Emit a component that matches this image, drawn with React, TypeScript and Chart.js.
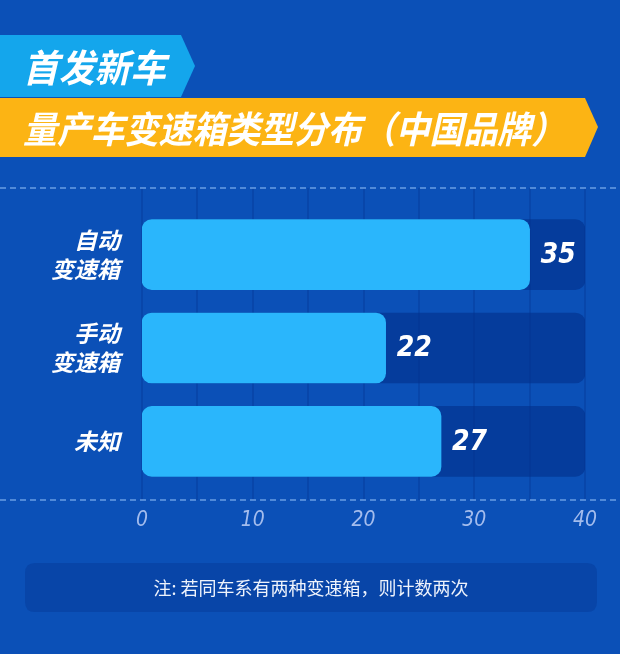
import React, { useEffect, useRef } from 'react';
import { Chart, registerables } from 'chart.js';

Chart.register(...registerables);

// ---- data ----
const TITLE_TAG = '首发新车';
const TITLE_MAIN = '量产车变速箱类型分布（中国品牌）';
const NOTE = '注: 若同车系有两种变速箱，则计数两次';
const categories: string[][] = [['自动', '变速箱'], ['手动', '变速箱'], ['未知']];
const counts: number[] = [35, 22, 27];
const tickValues: number[] = [0, 10, 20, 30, 40];
const gridValues: number[] = [0, 5, 10, 15, 20, 25, 30, 35, 40];
const AXIS_MAX = 40;

// ---- style ----
const CJK = "'Noto Sans CJK SC', 'Noto Sans', sans-serif";
const NUM = "'DejaVu Sans Condensed', 'Liberation Sans Narrow', 'DejaVu Sans', sans-serif";
const BG = '#0b50b7';
const BAR = '#2ab6fc';
const TRACK = 'rgba(2, 49, 138, 0.62)';
const GRID = '#0843a6';
const DASH = '#6a9de3';

function fitText(ctx: CanvasRenderingContext2D, text: string, x: number, y: number, w: number, font: string) {
  ctx.font = font;
  const m = ctx.measureText(text).width;
  ctx.save();
  ctx.translate(x, y);
  ctx.scale(w / m, 1);
  ctx.fillText(text, 0, 0);
  ctx.restore();
}

function roundRect(ctx: CanvasRenderingContext2D, x: number, y: number, w: number, h: number, r: number) {
  ctx.beginPath();
  ctx.moveTo(x + r, y);
  ctx.lineTo(x + w - r, y);
  ctx.quadraticCurveTo(x + w, y, x + w, y + r);
  ctx.lineTo(x + w, y + h - r);
  ctx.quadraticCurveTo(x + w, y + h, x + w - r, y + h);
  ctx.lineTo(x + r, y + h);
  ctx.quadraticCurveTo(x, y + h, x, y + h - r);
  ctx.lineTo(x, y + r);
  ctx.quadraticCurveTo(x, y, x + r, y);
  ctx.closePath();
}

const deco = {
  id: 'deco',
  beforeDraw(chart: any) {
    const ctx: CanvasRenderingContext2D = chart.ctx;
    const W = chart.width;
    const H = chart.height;
    ctx.save();
    ctx.fillStyle = BG;
    ctx.fillRect(0, 0, W, H);

    // banners
    ctx.fillStyle = '#14a6ec';
    ctx.beginPath();
    ctx.moveTo(0, 35); ctx.lineTo(181, 35); ctx.lineTo(195, 66); ctx.lineTo(181, 97); ctx.lineTo(0, 97);
    ctx.closePath(); ctx.fill();
    ctx.fillStyle = '#fcb414';
    ctx.beginPath();
    ctx.moveTo(0, 98); ctx.lineTo(585, 98); ctx.lineTo(598, 127); ctx.lineTo(585, 157); ctx.lineTo(0, 157);
    ctx.closePath(); ctx.fill();

    ctx.fillStyle = '#ffffff';
    ctx.textBaseline = 'middle';
    ctx.textAlign = 'left';
    fitText(ctx, TITLE_TAG, 23, 68, 143, `italic bold 38px ${CJK}`);
    fitText(ctx, TITLE_MAIN, 23, 129, 542, `italic bold 37px ${CJK}`);

    // vertical grid
    const xs = chart.scales.x;
    ctx.strokeStyle = GRID;
    ctx.lineWidth = 1.5;
    gridValues.forEach((v) => {
      const px = Math.round(xs.getPixelForValue(v));
      ctx.beginPath();
      ctx.moveTo(px, 188);
      ctx.lineTo(px, 500);
      ctx.stroke();
    });

    // dashed lines
    ctx.setLineDash([6, 4]);
    ctx.strokeStyle = DASH;
    ctx.lineWidth = 1.5;
    [188, 500].forEach((y) => {
      ctx.beginPath();
      ctx.moveTo(0, y);
      ctx.lineTo(W, y);
      ctx.stroke();
    });
    ctx.setLineDash([]);

    // footnote box
    ctx.fillStyle = '#0845a8';
    roundRect(ctx, 25, 563, 572, 49, 10);
    ctx.fill();
    ctx.fillStyle = '#eef3fc';
    ctx.font = `18px ${CJK}`;
    ctx.textAlign = 'center';
    ctx.textBaseline = 'middle';
    ctx.fillText(NOTE, 311, 588);
    ctx.restore();
  },
  afterDatasetsDraw(chart: any) {
    const ctx: CanvasRenderingContext2D = chart.ctx;
    const meta = chart.getDatasetMeta(0);
    ctx.save();
    ctx.fillStyle = '#ffffff';
    ctx.font = `italic bold 28px ${NUM}`;
    ctx.textAlign = 'left';
    ctx.textBaseline = 'middle';
    meta.data.forEach((el: any, i: number) => {
      ctx.fillText(String(counts[i]), el.x + 11, el.y + 1);
    });
    ctx.restore();
  },
};

export default function App() {
  const ref = useRef<HTMLCanvasElement>(null);
  useEffect(() => {
    if (!ref.current) return;
    const chart = new Chart(ref.current, {
      type: 'bar',
      data: {
        labels: categories as any,
        datasets: [
          {
            label: 'count',
            data: counts,
            backgroundColor: BAR,
            borderRadius: 10,
            borderSkipped: false,
            barThickness: 70,
            grouped: false,
            order: 1,
          } as any,
          {
            label: 'track',
            data: categories.map(() => AXIS_MAX),
            backgroundColor: TRACK,
            borderRadius: 10,
            borderSkipped: false,
            barThickness: 70,
            grouped: false,
            order: 2,
          } as any,
        ],
      },
      options: {
        indexAxis: 'y',
        responsive: false,
        animation: false,
        devicePixelRatio: 1,
        layout: { padding: { top: 208, right: 35, left: 0, bottom: 0 } },
        plugins: { legend: { display: false }, tooltip: { enabled: false } },
        scales: {
          x: {
            type: 'linear',
            min: 0,
            max: AXIS_MAX,
            position: 'bottom',
            grid: { display: false, drawTicks: false },
            border: { display: false },
            afterBuildTicks: (s: any) => {
              s.ticks = tickValues.map((v) => ({ value: v }));
            },
            ticks: {
              color: '#a3bced',
              font: { family: NUM, size: 21, style: 'italic' },
              padding: 20,
            },
            afterFit: (s: any) => {
              s.height = 654 - 488;
            },
          },
          y: {
            type: 'category',
            position: 'left',
            grid: { display: false, drawTicks: false },
            border: { display: false },
            ticks: {
              color: '#ffffff',
              font: { family: CJK, size: 23, weight: 'bold', style: 'italic', lineHeight: 1.25 },
              padding: 22,
            },
            afterFit: (s: any) => {
              s.width = 142;
            },
          },
        },
      } as any,
      plugins: [deco],
    });
    return () => chart.destroy();
  }, []);
  return (
    <div style={{ position: 'absolute', left: 0, top: 0, width: 620, height: 654 }}>
      <canvas ref={ref} width={620} height={654} style={{ display: 'block', width: 620, height: 654 }} />
    </div>
  );
}
